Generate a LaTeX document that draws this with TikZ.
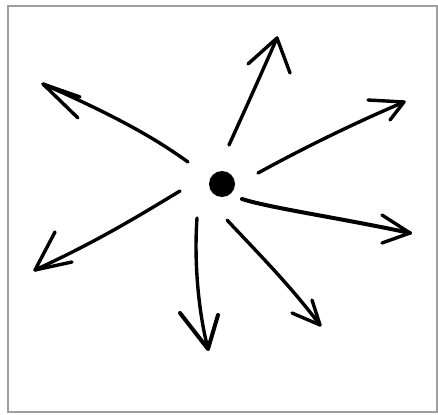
\documentclass[tikz,border=0pt]{standalone}
\begin{document}
\begin{tikzpicture}[x=1pt,y=-1pt,
  stroke/.style={line width=3.4pt,line cap=round,line join=round},
  headline/.style={line width=3.4pt,line cap=round,line join=round},
  frame/.style={draw=black!38,line width=2pt}]
\useasboundingbox (0,0) rectangle (438,414);
\draw[frame] (8,6) rectangle (437,412);
\node[circle,fill=black,minimum size=26pt,inner sep=0pt] (dot) at (222,184) {};
% 1 up
\coordinate (s1) at (229,145); \coordinate (t1) at (277,38);
\draw[stroke] (s1) .. controls (245,110) and (262,72) .. (t1);
\draw[headline] (248,64) -- (t1) -- (290,73);
% 2 upper-left
\coordinate (s2) at (188,162); \coordinate (t2) at (43,84);
\draw[stroke] (s2) .. controls (160,142) and (125,120) .. (t2);
\draw[headline] (80,97) -- (t2) -- (78,118);
% 3 upper-right
\coordinate (s3) at (258,173); \coordinate (t3) at (404,102);
\draw[stroke] (s3) .. controls (300,150) and (350,125) .. (t3);
\draw[headline] (368,100) -- (t3) -- (390,120);
% 4 right
\coordinate (s4) at (242,199); \coordinate (t4) at (410,233);
\draw[stroke,line width=4pt] (s4) .. controls (270,208) and (340,218) .. (t4);
\draw[headline] (382,215) -- (t4) -- (382,243);
% 5 lower-right
\coordinate (s5) at (227,220); \coordinate (t5) at (320,325);
\draw[stroke] (s5) .. controls (255,250) and (290,285) .. (t5);
\draw[headline] (312,300) -- (t5) -- (292,313);
% 6 down
\coordinate (s6) at (197,218); \coordinate (t6) at (208,349);
\draw[stroke] (s6) .. controls (194,260) and (198,310) .. (t6);
\draw[headline,line width=4pt] (180,313) -- (t6) -- (218,315);
% 7 lower-left
\coordinate (s7) at (180,191); \coordinate (t7) at (35,270);
\draw[stroke] (s7) .. controls (140,215) and (100,240) .. (t7);
\draw[headline] (55,232) -- (t7) -- (72,262);
\end{tikzpicture}
\end{document}
